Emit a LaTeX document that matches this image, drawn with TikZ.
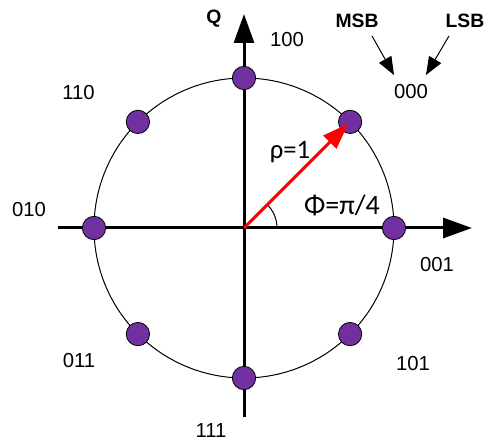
\documentclass[tikz,border=0pt]{standalone}
\usepackage{fontspec}
\setmainfont{Liberation Sans}
\newfontfamily\calfont{Carlito}
\usetikzlibrary{arrows.meta,calc}
\definecolor{dotpurple}{HTML}{7030A0}
\begin{document}
\begin{tikzpicture}[x=0.75pt,y=-0.75pt,
  axis/.style={line width=2.25pt,-{Triangle[length=21.75pt,width=15pt]}},
  dot/.style={circle,draw=black,line width=0.6pt,fill=dotpurple,minimum size=17.5pt,inner sep=0pt},
  lbl/.style={font=\fontsize{15.2}{18}\selectfont,inner sep=0pt},
  bld/.style={font=\fontsize{14.5}{17}\selectfont\bfseries,inner sep=0pt},
  big/.style={font=\calfont\fontsize{20}{24}\selectfont,inner sep=0pt},
  pointer/.style={line width=0.75pt,-{Triangle[length=13.5pt,width=10.5pt]}}]
\useasboundingbox (0,0) rectangle (486,441);
\coordinate (O) at (244,228);
\coordinate (xl) at (58,228);
\coordinate (xr) at (472,228);
\coordinate (yb) at (244,417);
\coordinate (yt) at (244,14);
% unit circle
\draw[line width=0.75pt] (O) circle[radius=150];
% axes
\draw[axis] (xl) -- (xr);
\draw[axis] (yb) -- (yt);
% angle arc
\draw[line width=0.75pt] ($(O)+(33,0)$) arc[start angle=0,end angle=-45,radius=33];
% dots
\node[dot] (d0) at (394,228) {};
\node[dot] (d45) at (350.1,121.9) {};
\node[dot] (d90) at (244,78) {};
\node[dot] (d135) at (137.9,121.9) {};
\node[dot] (d180) at (94,228) {};
\node[dot] (d225) at (137.9,334.1) {};
\node[dot] (d270) at (244,378) {};
\node[dot] (d315) at (350.1,334.1) {};
% red vector
\draw[red,line width=2.25pt,-{Triangle[length=19.5pt,width=13.5pt]},shorten >=2pt] (O) -- (d45.center);
% labels
\node[bld] (Q) at (214,19) {Q};
\node[lbl] (l100) at (287,40) {100};
\node[lbl] (l110) at (78.5,92.5) {110};
\node[lbl] (l010) at (29,210) {010};
\node[lbl] (l001) at (437,265) {001};
\node[lbl] (l011) at (79,361) {011};
\node[lbl] (l101) at (413,364) {101};
\node[lbl] (l111) at (211,431) {111};
\node[lbl] (l000) at (411,92) {000};
\node[bld] (msb) at (357,21) {MSB};
\node[bld] (lsb) at (465,21) {LSB};
\coordinate (msbe) at (394,75);
\coordinate (lsbe) at (426,75);
\draw[pointer] (372,36) -- (msbe);
\draw[pointer] (449,36) -- (lsbe);
\node[big] (rho) at (290,152) {ρ=1};
\node[big,font=\calfont\fontsize{21}{25}\selectfont] (phi) at (342,205) {Φ=π/4};
\end{tikzpicture}
\end{document}
